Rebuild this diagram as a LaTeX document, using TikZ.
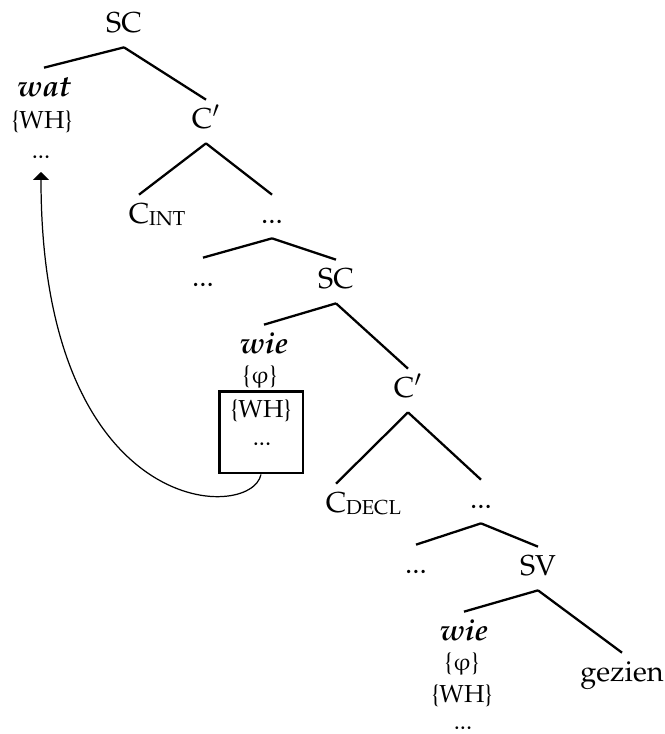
\documentclass[tikz,border=0pt]{standalone}
\usepackage[T1]{fontenc}
\usepackage{mathpazo}
\usepackage{upgreek}
\usetikzlibrary{arrows.meta,positioning}
\newcommand{\subcat}[1]{\rlap{\raisebox{-0.05cm}{\fontsize{11.5}{13}\selectfont #1}}}
\begin{document}
\begin{tikzpicture}[x=0.02cm,y=-0.02cm,
                cat/.style={
                    anchor=base,
                    inner xsep=1pt,
                    inner ysep=0pt,
                    text height=0.56cm,
                    text depth=0.3cm,
                    font=\fontsize{16.4}{19}\selectfont
                },
                whword/.style={
                    cat,
                    font=\fontsize{17}{20}\selectfont\bfseries\itshape
                },
                feat/.style={
                    anchor=base,
                    inner sep=0pt,
                    font=\fontsize{14}{17}\selectfont
                },
                chainbox/.style={
                    draw,
                    line width=1.7pt,
                    minimum width=1.68cm,
                    minimum height=1.64cm,
                    inner sep=0pt
                },
                branch/.style={
                    line width=1.3pt
                },
                movearrow/.style={
                    -{Triangle[length=1.6mm,width=3.2mm]},
                    line width=0.7pt
                }
            ]
                \useasboundingbox (0,0) rectangle (665,734);

                % upper clause
                \node[cat] (sc1) at (124,32) {SC};
                \node[whword] (wat) at (44,96) {wat};
                \node[feat] (wh1) at (42,128) {\{WH\}};
                \node[feat] (dots1) at (41,158) {...};
                \node[cat] (c1) at (206,128) {C$'$};
                \node[cat] (cint) at (139,223) {C\subcat{INT}};
                \node[cat] (dots2) at (272,223) {...};
                \node[cat] (dots3) at (203,286) {...};
                \node[cat] (sc2) at (336,288) {SC};

                % embedded clause
                \node[whword] (wie1) at (264,353) {wie};
                \node[feat] (phi1) at (260,383) {\{$\upvarphi$\}};
                \node[chainbox] (box) at (261,432) {};
                \node[feat] (wh2) at (261,417) {\{WH\}};
                \node[feat] (dots4) at (262,445) {...};
                \node[cat] (c2) at (408,397) {C$'$};
                \node[cat] (cdecl) at (336,512) {C\subcat{DECL}};
                \node[cat] (dots5) at (481,508) {...};
                \node[cat] (dots6) at (416,573) {...};
                \node[cat] (sv) at (538,575) {SV};
                \node[whword] (wie2) at (464,640) {wie};
                \node[feat] (phi2) at (462,670) {\{$\upvarphi$\}};
                \node[feat] (wh3) at (462,702) {\{WH\}};
                \node[feat] (dots7) at (463,729) {...};
                \node[cat] (gezien) at (622,681) {gezien};

                \coordinate[below=0.28cm of dots1.base] (landing);

                \draw[branch] (sc1.south) -- (wat.north);
                \draw[branch] (sc1.south) -- (c1.north);
                \draw[branch] (c1.south) -- (cint.north);
                \draw[branch] (c1.south) -- (dots2.north);
                \draw[branch] (dots2.south) -- (dots3.north);
                \draw[branch] (dots2.south) -- (sc2.north);
                \draw[branch] (sc2.south) -- (wie1.north);
                \draw[branch] (sc2.south) -- (c2.north);
                \draw[branch] (c2.south) -- (cdecl.north);
                \draw[branch] (c2.south) -- (dots5.north);
                \draw[branch] (dots5.south) -- (dots6.north);
                \draw[branch] (dots5.south) -- (sv.north);
                \draw[branch] (sv.south) -- (wie2.north);
                \draw[branch] (sv.south) -- (gezien.north);

                \draw[movearrow] (box.south) .. controls +(-10,48) and +(0,348) .. (landing);
        \end{tikzpicture}
\end{document}
